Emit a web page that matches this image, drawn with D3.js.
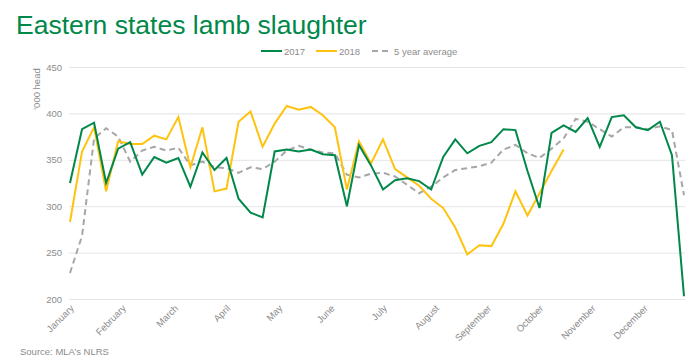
<!DOCTYPE html>
<html>
<head>
<meta charset="utf-8">
<script src="https://cdn.jsdelivr.net/npm/d3@7"></script>
<style>
  html, body { margin: 0; padding: 0; background: #fff; }
  svg { display: block; font-family: "Liberation Sans", Arial, sans-serif; }
</style>
</head>
<body>
<svg id="chart" width="700" height="362"></svg>
<script>
const months = ["January","February","March","April","May","June","July","August","September","October","November","December"];
const yTicks = [200, 250, 300, 350, 400, 450];
const series2017 = [325,383,390,325,362,369,334,353,347,352,321,358,339,352,308,293,288,359,361,359,361,356,355,300,366,344,318,328,330,327,318,353,372,357,365,369,383,382,338,298,379,387,380,395,364,396,398,385,382,391,355,203];
const series2018 = [283,359,385,316,370,367,367,376,372,396,342,385,316,319,391,402,364,389,408,404,407,398,385,318,370,346,372,340,331,322,308,298,277,248,258,257,281,316,290,314,338,361];
const seriesAvg = [228,268,373,384,375,348,360,364,360,363,344,348,342,341,336,342,340,348,360,365,361,358,357,334,331,335,336,332,323,314,321,331,339,341,343,347,361,366,357,352,362,373,394,391,383,375,385,385,383,386,382,312];
const seriesNames = ["2017", "2018", "5 year average"];

const weeks = series2017.length;
const svg = d3.select("#chart");
const green = "#00884A", yellow = "#FFC30F", grey = "#A6A6A6", txt = "#8C8C8C";

const x = d3.scaleLinear().domain([0, weeks - 1]).range([70, 684]);
const y = d3.scaleLinear().domain([200, 450]).range([299, 67]);

// Title
svg.append("text").attr("x", 16).attr("y", 34)
  .attr("fill", "#00884A").attr("font-size", 26.5).text("Eastern states lamb slaughter");

// Gridlines + y labels
const yAxis = d3.axisLeft(y).tickValues(yTicks).tickSize(-(685 - 69)).tickPadding(7);
const gy = svg.append("g").attr("transform", "translate(69,0)").call(yAxis);
gy.select(".domain").remove();
gy.selectAll(".tick line").attr("stroke", "#E4E4E4").attr("stroke-width", 1);
gy.selectAll(".tick text").attr("fill", txt).attr("font-size", 9.5)
  .attr("font-family", "Liberation Sans, Arial, sans-serif");

// Y title
svg.append("text").attr("transform", "translate(40,89) rotate(-90)")
  .attr("text-anchor", "middle").attr("fill", txt).attr("font-size", 9.5).text("'000 head");

// X month labels
const monthPos = months.map((m, k) => k * weeks / 12);
const xAxis = d3.axisBottom(x).tickValues(monthPos).tickFormat((d, i) => months[i]).tickSize(0).tickPadding(0);
const gx = svg.append("g").attr("transform", "translate(0,299)").call(xAxis);
gx.select(".domain").remove();
gx.selectAll(".tick text")
  .attr("fill", txt).attr("font-size", 9.5)
  .attr("font-family", "Liberation Sans, Arial, sans-serif")
  .attr("text-anchor", "end")
  .attr("dy", null)
  .attr("transform", "translate(4,10) rotate(-45)");

// Lines
const line = d3.line().x((d, i) => x(i)).y(d => y(d));
svg.append("path").datum(seriesAvg).attr("d", line).attr("fill", "none")
  .attr("stroke", grey).attr("stroke-width", 2).attr("stroke-dasharray", "6,4");
svg.append("path").datum(series2018).attr("d", line).attr("fill", "none")
  .attr("stroke", yellow).attr("stroke-width", 2);
svg.append("path").datum(series2017).attr("d", line).attr("fill", "none")
  .attr("stroke", green).attr("stroke-width", 2);

// Legend
const legend = [
  {name: seriesNames[0], color: green, dash: null, x1: 261, x2: 282, tx: 284},
  {name: seriesNames[1], color: yellow, dash: null, x1: 316, x2: 337, tx: 339},
  {name: seriesNames[2], color: grey, dash: "6,4", x1: 372, x2: 392, tx: 394}
];
const lg = svg.append("g");
legend.forEach(l => {
  lg.append("line").attr("x1", l.x1).attr("x2", l.x2).attr("y1", 51).attr("y2", 51)
    .attr("stroke", l.color).attr("stroke-width", 2).attr("stroke-dasharray", l.dash);
  lg.append("text").attr("x", l.tx).attr("y", 54.5).attr("fill", txt).attr("font-size", 9.5).text(l.name);
});

// Source
svg.append("text").attr("x", 20).attr("y", 355).attr("fill", txt).attr("font-size", 9.5)
  .text("Source: MLA’s NLRS");
</script>
</body>
</html>
